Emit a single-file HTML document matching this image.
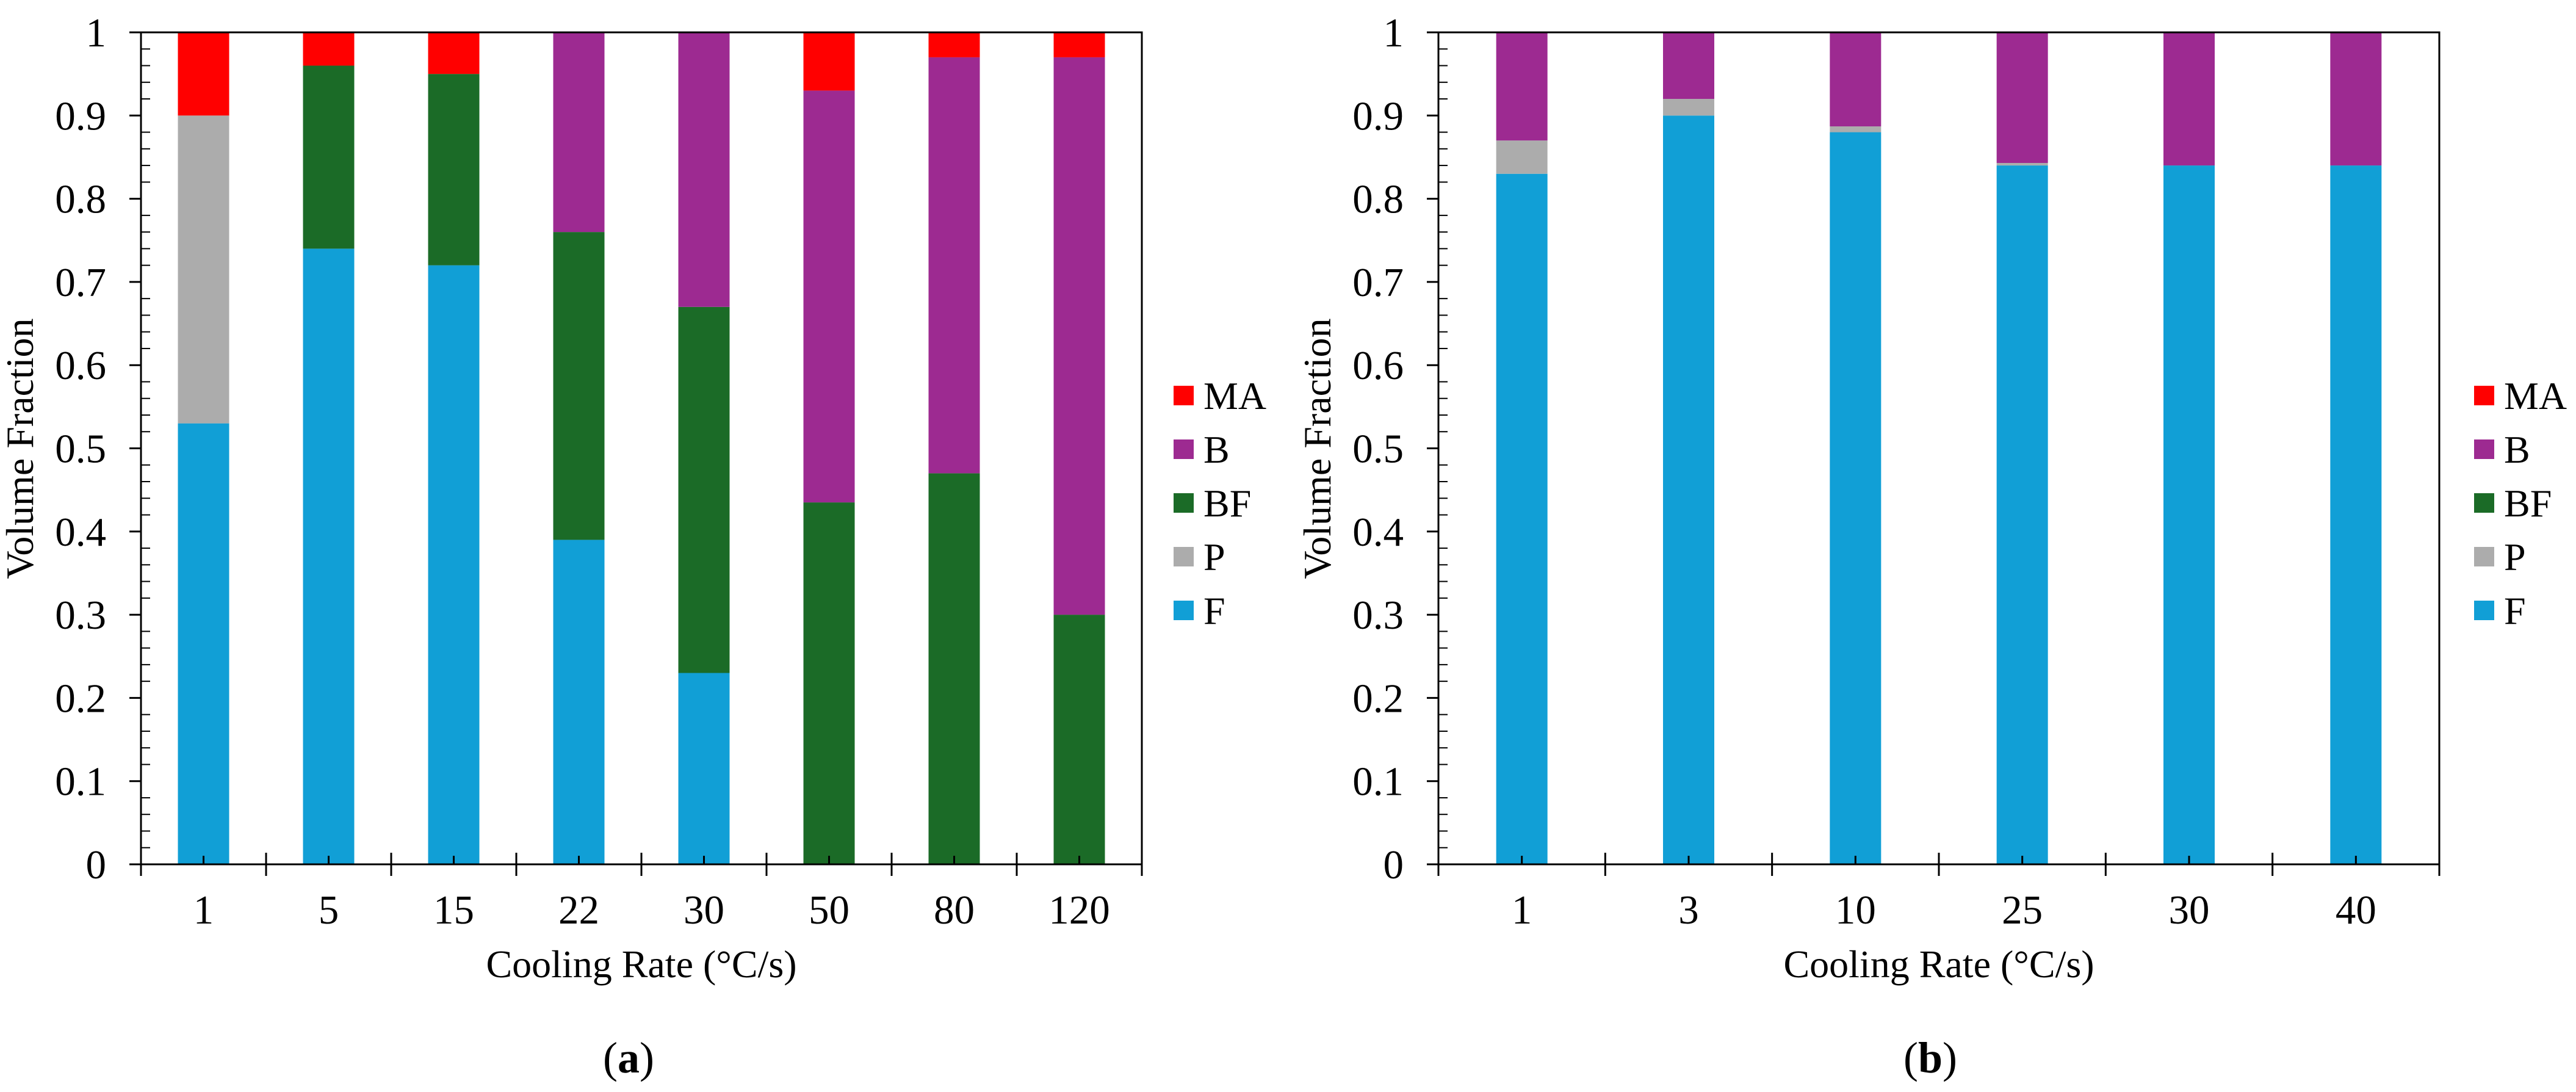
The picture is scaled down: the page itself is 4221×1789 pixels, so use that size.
<!DOCTYPE html>
<html><head><meta charset="utf-8"><style>
html,body{margin:0;padding:0;background:#fff}
svg{display:block}
text{font-family:"Liberation Serif",serif;fill:#000}
</style></head><body>
<svg id="svg" width="4221" height="1789" viewBox="0 0 4221 1789"></svg>
<script>
const seriesNames = ["F","P","BF","B","MA"];
const seriesColors = ["#119fd6","#acacac","#1b6b27","#9d2a91","#ff0000"];
const catsA = ["1","5","15","22","30","50","80","120"];
const F_A  = [0.53,0.74,0.72,0.39,0.23,0,0,0];
const P_A  = [0.37,0,0,0,0,0,0,0];
const BF_A = [0,0.22,0.23,0.37,0.44,0.435,0.47,0.30];
const B_A  = [0,0,0,0.24,0.33,0.495,0.50,0.67];
const MA_A = [0.10,0.04,0.05,0,0,0.07,0.03,0.03];
const catsB = ["1","3","10","25","30","40"];
const F_B  = [0.83,0.90,0.88,0.84,0.84,0.84];
const P_B  = [0.04,0.02,0.007,0.003,0,0];
const BF_B = [0,0,0,0,0,0];
const B_B  = [0.13,0.08,0.113,0.157,0.16,0.16];
const MA_B = [0,0,0,0,0,0];
const yTicks = ["0","0.1","0.2","0.3","0.4","0.5","0.6","0.7","0.8","0.9","1"];

const NS="http://www.w3.org/2000/svg";
const svg=document.getElementById('svg');
function mk(tag,attrs,parent,txt){const e=document.createElementNS(NS,tag);for(const k in attrs)e.setAttribute(k,attrs[k]);if(txt!==undefined)e.textContent=txt;(parent||svg).appendChild(e);return e;}

function chart(id,x0,x1,cats,series,legX,label,labX,ylabX,ytickX){
  const y0=1416,y1=53;
  const g=mk('g',{});
  
  
  const ys=v=>y0-(y0-y1)*v;
  const cw=(x1-x0)/cats.length, bw=84;
  const xs=i=>x0+cw*(i+0.5);
  cats.forEach((c,i)=>{
    let acc=0;
    series.forEach((arr,s)=>{
      const v=arr[i]; if(v<=0) return;
      const r=mk('rect',{x:xs(i)-bw/2,y:ys(acc+v),width:bw,height:ys(acc)-ys(acc+v),fill:seriesColors[s]},g);
      
      
      acc+=v;
    });
  });
  const fr=mk('rect',{x:x0,y:y1,width:x1-x0,height:y0-y1,fill:'none',stroke:'#000','stroke-width':3},g);
  
  
  for(let k=0;k<=50;k++){
    const y=ys(k*0.02);
    if(k%5===0) mk('line',{x1:x0-19,x2:x0,y1:y,y2:y,stroke:'#000','stroke-width':3},g);
    else mk('line',{x1:x0,x2:x0+15,y1:y,y2:y,stroke:'#000','stroke-width':2},g);
  }
  yTicks.forEach((t,k)=>{
    const tx=mk('text',{x:ytickX,y:ys(k*0.1)+23,'font-size':67,'text-anchor':'end'},g,t);
    
    
  });
  for(let i=0;i<=cats.length;i++){
    const x=x0+cw*i;
    mk('line',{x1:x,x2:x,y1:1397,y2:1435,stroke:'#000','stroke-width':3},g);
  }
  cats.forEach((c,i)=>{
    mk('line',{x1:xs(i),x2:xs(i),y1:1402,y2:y0,stroke:'#000','stroke-width':3},g);
    const tx=mk('text',{x:xs(i),y:1513,'font-size':67,'text-anchor':'middle'},g,c);
    
    
  });
  const xt=mk('text',{x:(x0+x1)/2,y:1601,'font-size':64,'text-anchor':'middle'},g,'Cooling Rate (°C/s)');
  
  
  const yt=mk('text',{x:0,y:0,'font-size':64,'text-anchor':'middle',transform:'translate('+ylabX+',735) rotate(-90)'},g,'Volume Fraction');
  
  
  const order=[4,3,2,1,0];
  const lg=mk('g',{},g);
  
  
  order.forEach((s,j)=>{
    const cy=648+j*88;
    const e=mk('g',{},lg);
    
    
    mk('rect',{x:legX,y:cy-16,width:33,height:32,fill:seriesColors[s]},e);
    mk('text',{x:legX+49,y:cy+22,'font-size':64},e,seriesNames[s]);
  });
  const pl=mk('text',{x:labX,y:1757,'font-size':72,'text-anchor':'middle'},g);
  
  
  mk('tspan',{},pl,'(');
  mk('tspan',{'font-weight':'bold'},pl,label);
  mk('tspan',{},pl,')');
}
chart('a',231,1871,catsA,[F_A,P_A,BF_A,B_A,MA_A],1923,'a',1030,54,174);
chart('b',2357,3997,catsB,[F_B,P_B,BF_B,B_B,MA_B],4054,'b',3163,2180,2300);
</script>
</body></html>
